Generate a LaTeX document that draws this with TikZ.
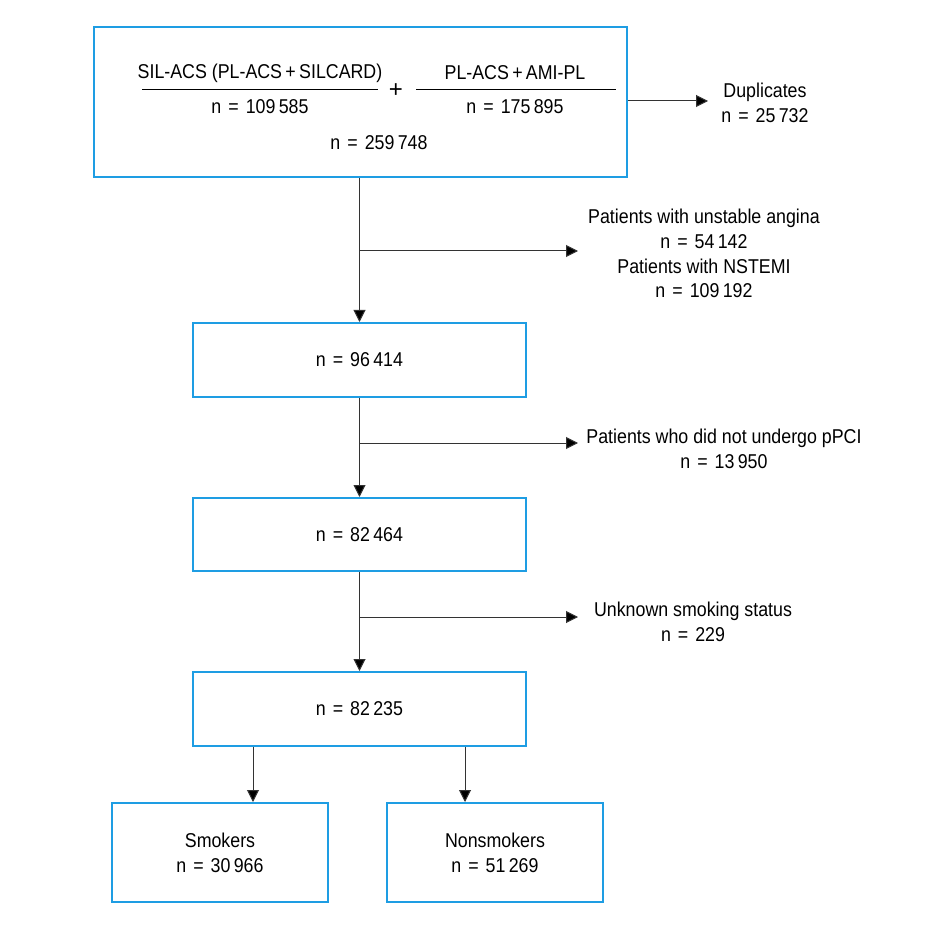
\documentclass[tikz,border=0pt]{standalone}
\usepackage{fontspec}
\setmainfont{Liberation Sans}[FakeStretch=0.89]
\usetikzlibrary{arrows.meta}
\definecolor{boxblue}{HTML}{1E9DE3}
\definecolor{lin}{HTML}{333333}
\tikzset{
  box/.style={draw=boxblue, line width=2pt, minimum width=#1, inner sep=0pt},
  box/.default=333pt,
  txt/.style={align=center, font=\fontsize{20}{24.8}\selectfont, inner sep=0pt},
  conn/.style={draw=lin, line width=1pt, -{Triangle[length=12pt,width=12pt,fill=black]}}
}
\newcommand{\nn}[1]{n\hspace{0.35em}=\hspace{0.35em}#1}
\begin{document}
\begin{tikzpicture}[x=1pt,y=-1pt]
\useasboundingbox (0,0) rectangle (951,925);
\fill[white] (0,0) rectangle (951,925);
% top box
\node[box, minimum width=533pt, minimum height=150pt] (top) at (360.5,102) {};
\draw[line width=1pt] (142,90) -- (378,90);
\draw[line width=1pt] (416,90) -- (616,90);
\node[txt] (s1) at (260,73) {SIL-ACS (PL-ACS\,+\,SILCARD)};
\node[txt] (s1n) at (260,107) {\nn{109\,585}};
\node[txt, font=\fontsize{24}{26}\selectfont\addfontfeature{FakeStretch=1.0}] (plus) at (396,91) {+};
\node[txt] (s2) at (515,73) {PL-ACS\,+\,AMI-PL};
\node[txt] (s2n) at (515,107) {\nn{175\,895}};
\node[txt] (tot) at (379,143) {\nn{259\,748}};
% duplicates
\node[txt] (dup) at (765,103) {Duplicates\\ \nn{25\,732}};
\coordinate (dupin) at (708,101);
\draw[conn] (top.east |- dupin) -- (dupin);
% boxes
\node[box, minimum height=74pt] (b2) at (359.5,360) {};
\node[txt] (b2t) at (b2.center) {\nn{96\,414}};
\node[box, minimum height=73pt] (b3) at (359.5,534.5) {};
\node[txt] (b3t) at (b3.center) {\nn{82\,464}};
\node[box, minimum height=74pt] (b4) at (359.5,709) {};
\node[txt] (b4t) at (b4.center) {\nn{82\,235}};
\node[box=216pt, minimum height=99pt, txt] (sm) at (220,852.5) {Smokers\\ \nn{30\,966}};
\node[box=216pt, minimum height=99pt, txt] (ns) at (495,852.5) {Nonsmokers\\ \nn{51\,269}};
% vertical connectors
\draw[conn] (top.south -| b2.north) -- (b2.north);
\draw[conn] (b2.south) -- (b3.north);
\draw[conn] (b3.south) -- (b4.north);
\draw[conn] (b4.south -| 253,0) -- (sm.north -| 253,0);
\draw[conn] (b4.south -| 465,0) -- (ns.north -| 465,0);
% side exclusions
\coordinate (j1) at (359.5,251);
\coordinate (e1) at (578,251);
\node[txt] (x1) at (704,253.5) {Patients with unstable angina\\ \nn{54\,142}\\ Patients with NSTEMI\\ \nn{109\,192}};
\draw[conn] (j1) -- (e1);
\coordinate (j2) at (359.5,443);
\coordinate (e2) at (578,443);
\node[txt] (x2) at (724,449) {Patients who did not undergo pPCI\\ \nn{13\,950}};
\draw[conn] (j2) -- (e2);
\coordinate (j3) at (359.5,617);
\coordinate (e3) at (578,617);
\node[txt] (x3) at (693,622) {Unknown smoking status\\ \nn{229}};
\draw[conn] (j3) -- (e3);
\end{tikzpicture}
\end{document}
